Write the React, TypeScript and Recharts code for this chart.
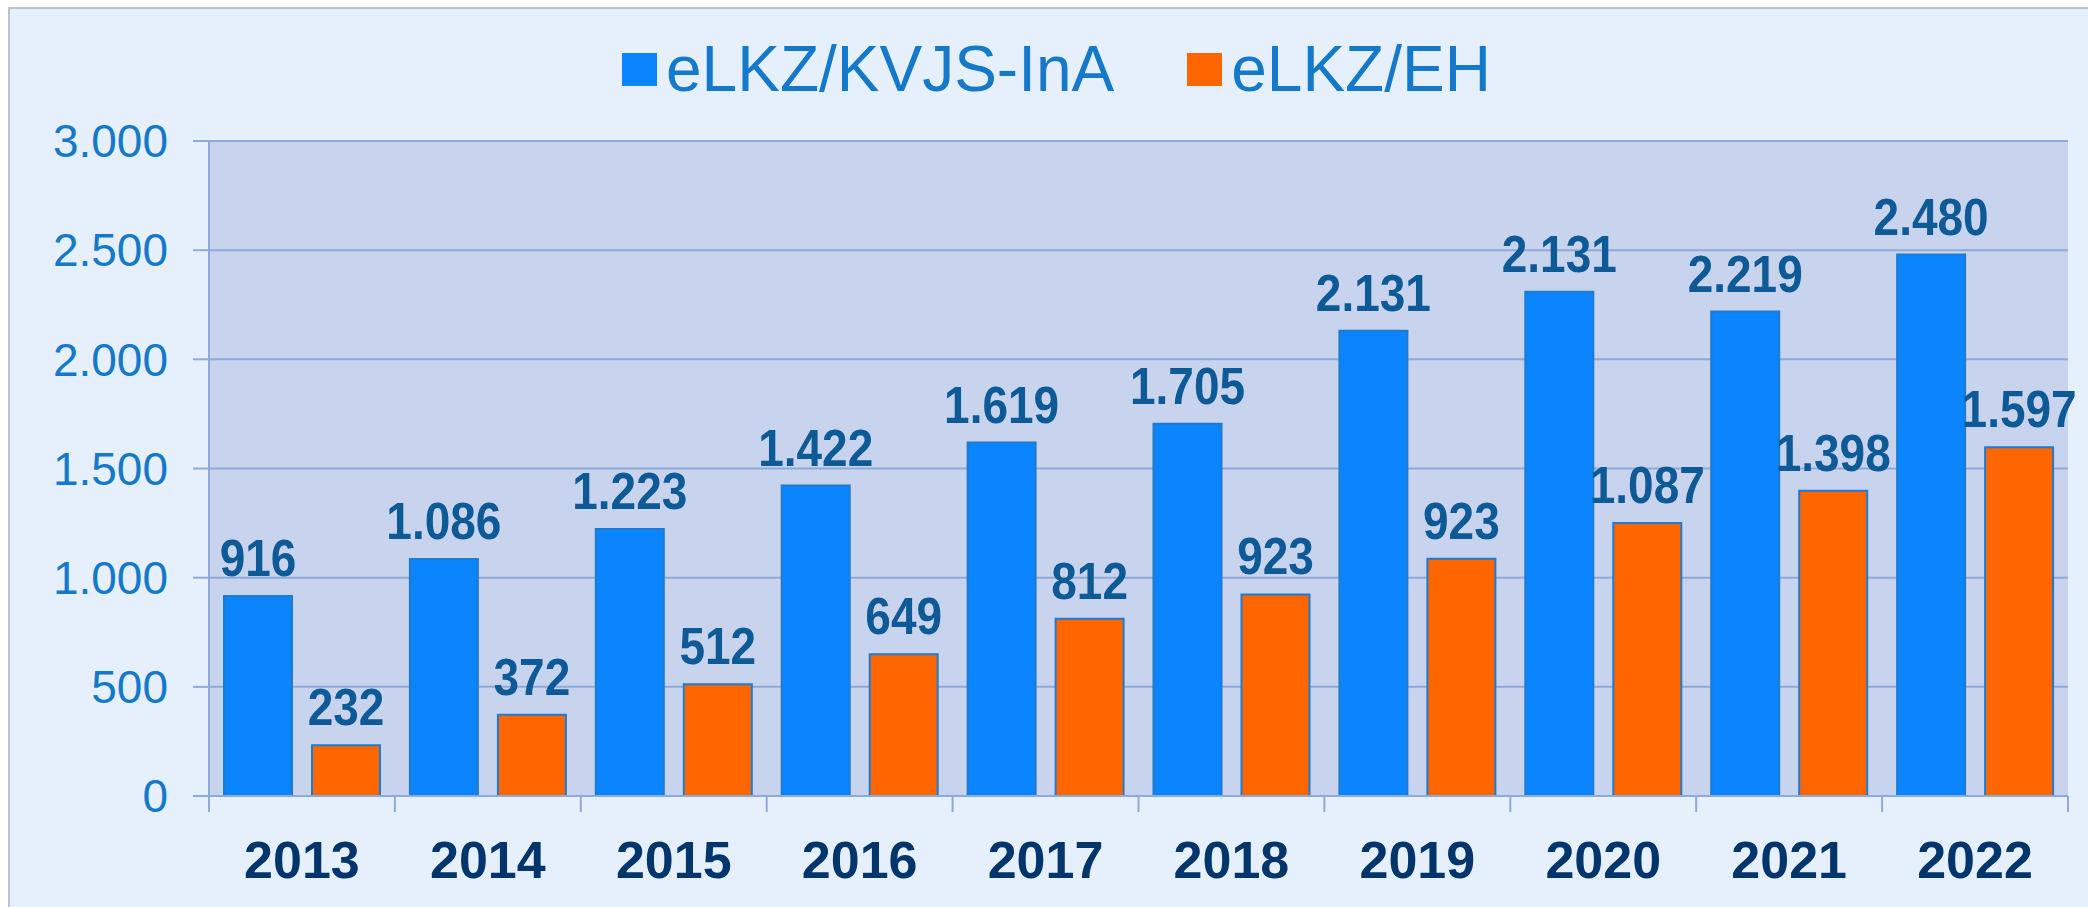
import React from 'react';
import { BarChart, Bar, XAxis, YAxis, CartesianGrid, LabelList } from 'recharts';

const YEARS = ['2013', '2014', '2015', '2016', '2017', '2018', '2019', '2020', '2021', '2022'];
// bar heights as drawn
const KVJS_VALUES = [916, 1086, 1223, 1422, 1619, 1705, 2131, 2310, 2219, 2480];
const EH_VALUES = [232, 372, 512, 649, 812, 923, 1087, 1250, 1398, 1597];
// numbers printed above the bars (the original labels lag by one year in 2019/2020)
const KVJS_LABELS = [916, 1086, 1223, 1422, 1619, 1705, 2131, 2131, 2219, 2480];
const EH_LABELS = [232, 372, 512, 649, 812, 923, 923, 1087, 1398, 1597];
const Y_TICKS = [0, 500, 1000, 1500, 2000, 2500, 3000];
const SERIES_NAMES = ['eLKZ/KVJS-InA', 'eLKZ/EH'];

const data = YEARS.map((year, i) => ({
  year,
  kvjs: KVJS_VALUES[i],
  eh: EH_VALUES[i],
  kvjsLabel: KVJS_LABELS[i],
  ehLabel: EH_LABELS[i],
}));

const W = 2088;
const H = 907;
const MARGIN = { top: 141, right: 20, left: 0, bottom: 0 };
const Y_AXIS_W = 209;
const PLOT_W = W - MARGIN.left - MARGIN.right - Y_AXIS_W;
const BAND = PLOT_W / YEARS.length;

const FONT = '"Liberation Sans", Arial, sans-serif';
const BLUE = '#0a85fe';
const ORANGE = '#ff6600';
const GRID = '#8eaad8';
const LABEL_COLOR = '#0d5a97';

const fmt = (v: number) => String(v).replace(/\B(?=(\d{3})+(?!\d))/g, '.');

function YearTick(props: any) {
  const { x, y, payload, index } = props;
  const left = x - BAND / 2;
  return (
    <g>
      <line x1={left} x2={left} y1={y} y2={y + 16} stroke={GRID} strokeWidth={2} />
      {index === YEARS.length - 1 && (
        <line x1={x + BAND / 2} x2={x + BAND / 2} y1={y} y2={y + 16} stroke={GRID} strokeWidth={2} />
      )}
      <text x={x} y={y + 82} textAnchor="middle" fill="#02356b" fontSize={52} fontWeight={700} fontFamily={FONT}>
        {payload.value}
      </text>
    </g>
  );
}

// labels in the original are a little taller than plain Arial bold
const renderLabel = (props: any) => {
  const vb = props.viewBox || {};
  const x = props.x ?? vb.x;
  const y = props.y ?? vb.y;
  const width = props.width ?? vb.width;
  return (
    <text
      transform={`translate(${x + width / 2}, ${y - 20}) scale(1, 1.12)`}
      textAnchor="middle"
      fill={LABEL_COLOR}
      fontSize={46}
      fontWeight={700}
      fontFamily={FONT}
    >
      {fmt(props.value)}
    </text>
  );
};

const ChartLegend = () => (
  <div style={{ position: 'absolute', top: 37, left: 622, display: 'flex', alignItems: 'center', fontFamily: FONT, fontSize: 64, lineHeight: 1, color: '#1479cb' }}>
    {SERIES_NAMES.map((name, i) => (
      <div key={name} style={{ display: 'flex', alignItems: 'center', marginRight: 73 }}>
        <span style={{ display: 'inline-block', width: 35, height: 33, background: i === 0 ? BLUE : ORANGE, marginRight: 9 }} />
        <span>{name}</span>
      </div>
    ))}
  </div>
);

export default function App() {
  return (
    <div style={{ position: 'absolute', left: 0, top: 0, width: W, height: H, background: '#ffffff', overflow: 'hidden' }}>
      <div style={{ position: 'absolute', left: 8, top: 7, right: 0, bottom: 0, background: '#e6f0fd', borderTop: '2px solid #bcc3cd', borderLeft: '2px solid #bcc3cd' }} />
      <ChartLegend />
      <div style={{ position: 'absolute', left: 0, top: 0 }}>
        <BarChart width={W} height={H} data={data} margin={MARGIN} barSize={68} barGap={20}>
          <CartesianGrid vertical={false} stroke={GRID} strokeWidth={2} fill="#c8d3ee" />
          <XAxis
            dataKey="year"
            height={111}
            tickLine={false}
            tickSize={0}
            tickMargin={0}
            axisLine={{ stroke: GRID, strokeWidth: 2 }}
            tick={YearTick}
            interval={0}
          />
          <YAxis
            width={Y_AXIS_W}
            domain={[0, 3000]}
            ticks={Y_TICKS}
            interval={0}
            tickFormatter={fmt}
            tickSize={16}
            tickMargin={25}
            tickLine={{ stroke: GRID, strokeWidth: 2 }}
            axisLine={{ stroke: GRID, strokeWidth: 2 }}
            tick={{ fill: '#1479cb', fontSize: 46, fontFamily: FONT }}
          />
          <Bar dataKey="kvjs" name={SERIES_NAMES[0]} fill={BLUE} stroke="#1f7bd0" strokeWidth={2} isAnimationActive={false}>
            <LabelList dataKey="kvjsLabel" content={renderLabel} />
          </Bar>
          <Bar dataKey="eh" name={SERIES_NAMES[1]} fill={ORANGE} stroke="#1f7bd0" strokeWidth={2} isAnimationActive={false}>
            <LabelList dataKey="ehLabel" content={renderLabel} />
          </Bar>
        </BarChart>
      </div>
    </div>
  );
}
